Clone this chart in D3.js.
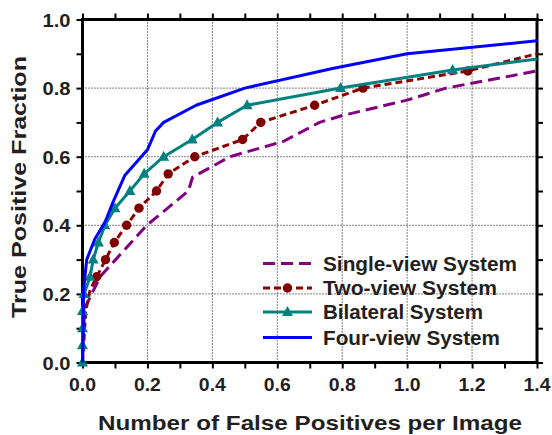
<!DOCTYPE html>
<html><head><meta charset="utf-8">
<script src="https://cdn.jsdelivr.net/npm/d3@7"></script>
<style>body{margin:0;background:#fff;} svg{display:block;}</style>
</head><body>
<script>
// ---- data ----
const seriesNames = ["Single-view System", "Two-view System", "Bilateral System", "Four-view System"];
const singleView = [[0,0],[0.003,0.10],[0.008,0.16],[0.054,0.25],[0.198,0.40],[0.326,0.50],[0.339,0.54],[0.454,0.60],[0.62,0.645],[0.73,0.70],[0.80,0.72],[1.0,0.765],[1.12,0.80],[1.4,0.85]];
const twoView = [[0,0],[0.01,0.15],[0.023,0.21],[0.044,0.25],[0.071,0.30],[0.098,0.35],[0.136,0.40],[0.174,0.45],[0.228,0.50],[0.264,0.55],[0.346,0.60],[0.493,0.65],[0.549,0.70],[0.715,0.75],[0.864,0.80],[1.187,0.85],[1.4,0.90]];
const twoViewMarked = [0.044,0.071,0.098,0.136,0.174,0.228,0.264,0.346,0.493,0.549,0.715,0.864,1.187];
const bilateral = [[0,0],[0,0.05],[0,0.10],[0,0.15],[0.005,0.20],[0.023,0.25],[0.033,0.30],[0.049,0.35],[0.069,0.40],[0.10,0.45],[0.146,0.50],[0.19,0.55],[0.25,0.60],[0.338,0.65],[0.416,0.70],[0.507,0.75],[0.795,0.80],[1.14,0.853],[1.4,0.885]];
const bilateralMarked = bilateral.slice(0, bilateral.length - 1);
const fourView = [[0,0],[0.002,0.10],[0.003,0.21],[0.013,0.30],[0.038,0.36],[0.07,0.41],[0.095,0.47],[0.13,0.545],[0.2,0.62],[0.225,0.675],[0.25,0.70],[0.35,0.75],[0.5,0.80],[0.77,0.857],[1.0,0.90],[1.4,0.938]];
const xTicks = [0,0.2,0.4,0.6,0.8,1.0,1.2,1.4];
const yTicks = [0,0.2,0.4,0.6,0.8,1.0];
const xMinor = d3.range(0, 1.401, 0.1);
const yMinor = d3.range(0, 1.001, 0.1);

// ---- layout ----
const W = 552, H = 435;
const m = {left: 82.5, right: 552 - 537, top: 19.5, bottom: 435 - 362.5};
const svg = d3.select("body").append("svg").attr("width", W).attr("height", H);
const x = d3.scaleLinear().domain([0, 1.4]).range([m.left, W - m.right]);
const y = d3.scaleLinear().domain([0, 1.0]).range([H - m.bottom, m.top]);
const textCol = "#231f20";
const font = "'Liberation Sans', Arial, sans-serif";

// grid
const g = svg.append("g");
g.selectAll(".vg").data(xTicks.slice(1, -1)).join("line")
  .attr("x1", d => x(d)).attr("x2", d => x(d)).attr("y1", y(0)).attr("y2", y(1))
  .attr("stroke", "#000").attr("stroke-width", 1).attr("stroke-dasharray", "1,2");
g.selectAll(".hg").data(yTicks.slice(1, -1)).join("line")
  .attr("y1", d => y(d)).attr("y2", d => y(d)).attr("x1", x(0)).attr("x2", x(1.4))
  .attr("stroke", "#000").attr("stroke-width", 1).attr("stroke-dasharray", "1,2");

// axes (outward ticks on all sides)
const fmt = d3.format(".1f");
const axB = svg.append("g").attr("transform", `translate(0,${y(0)})`)
  .call(d3.axisBottom(x).tickValues(xMinor).tickSize(6).tickFormat(""));
const axT = svg.append("g").attr("transform", `translate(0,${y(1)})`)
  .call(d3.axisTop(x).tickValues(xMinor).tickSize(6).tickFormat(""));
const axL = svg.append("g").attr("transform", `translate(${x(0)},0)`)
  .call(d3.axisLeft(y).tickValues(yMinor).tickSize(6).tickFormat(""));
const axR = svg.append("g").attr("transform", `translate(${x(1.4)},0)`)
  .call(d3.axisRight(y).tickValues(yMinor).tickSize(6).tickFormat(""));
[axB, axT, axL, axR].forEach(a => {
  a.select(".domain").remove();
  a.selectAll(".tick line").attr("stroke", "#000").attr("stroke-width", 2);
});
svg.append("rect").attr("x", x(0)).attr("y", y(1)).attr("width", x(1.4) - x(0)).attr("height", y(0) - y(1))
  .attr("fill", "none").attr("stroke", "#000").attr("stroke-width", 3);

// tick labels
svg.append("g").selectAll("text").data(xTicks).join("text")
  .attr("x", d => x(d)).attr("y", y(0) + 28).attr("text-anchor", "middle")
  .attr("font-family", font).attr("font-weight", "bold").attr("font-size", 19).attr("fill", textCol)
  .attr("textLength", 27).attr("lengthAdjust", "spacingAndGlyphs")
  .text(d => fmt(d));
svg.append("g").selectAll("text").data(yTicks).join("text")
  .attr("x", x(0) - 12).attr("y", d => y(d) + 7).attr("text-anchor", "end")
  .attr("font-family", font).attr("font-weight", "bold").attr("font-size", 19).attr("fill", textCol)
  .attr("textLength", 28).attr("lengthAdjust", "spacingAndGlyphs")
  .text(d => fmt(d));

// axis titles
svg.append("text").attr("x", 310).attr("y", 430).attr("text-anchor", "middle")
  .attr("font-family", font).attr("font-weight", "bold").attr("font-size", 21).attr("fill", textCol)
  .attr("textLength", 424).attr("lengthAdjust", "spacingAndGlyphs")
  .text("Number of False Positives per Image");
svg.append("text").attr("transform", `translate(26,187) rotate(-90)`).attr("text-anchor", "middle")
  .attr("font-family", font).attr("font-weight", "bold").attr("font-size", 21).attr("fill", textCol)
  .attr("textLength", 262).attr("lengthAdjust", "spacingAndGlyphs")
  .text("True Positive Fraction");

// series
const line = d3.line().x(d => x(d[0])).y(d => y(d[1]));
const styles = [
  {data: singleView, color: "#800080", dash: "12,6"},
  {data: twoView, color: "#8b0000", dash: "7,4"},
  {data: bilateral, color: "#008080", dash: null},
  {data: fourView, color: "#0000ff", dash: null}
];
const tri = "M0,-6L5.5,4L-5.5,4Z";

function drawSeries(i) {
  const s = styles[i];
  svg.append("path").datum(s.data).attr("d", line).attr("fill", "none")
    .attr("stroke", s.color).attr("stroke-width", 3).attr("stroke-dasharray", s.dash)
    .attr("stroke-linejoin", "round");
  if (i === 1) {
    svg.append("g").selectAll("circle").data(twoView.filter(d => twoViewMarked.includes(d[0]))).join("circle")
      .attr("cx", d => x(d[0])).attr("cy", d => y(d[1])).attr("r", 4.7).attr("fill", "#800000");
  }
  if (i === 2) {
    svg.append("g").selectAll("path").data(bilateralMarked).join("path")
      .attr("d", tri).attr("transform", d => `translate(${x(d[0])},${y(d[1])})`).attr("fill", "#008080");
  }
}
[0, 1, 2, 3].forEach(drawSeries);

// legend
const legY = [263.5, 288, 312, 337.5];
const legW = [194, 174, 160, 177];
const lg = svg.append("g");
styles.forEach((s, i) => {
  lg.append("line").attr("x1", 263).attr("x2", 312).attr("y1", legY[i]).attr("y2", legY[i])
    .attr("stroke", s.color).attr("stroke-width", 3).attr("stroke-dasharray", s.dash);
  if (i === 1) lg.append("circle").attr("cx", 287.5).attr("cy", legY[i]).attr("r", 4.7).attr("fill", "#800000");
  if (i === 2) lg.append("path").attr("d", tri).attr("transform", `translate(287.5,${legY[i]})`).attr("fill", "#008080");
  lg.append("text").attr("x", 323).attr("y", legY[i] + 7)
    .attr("font-family", font).attr("font-weight", "bold").attr("font-size", 19.5).attr("fill", textCol)
    .attr("textLength", legW[i]).attr("lengthAdjust", "spacingAndGlyphs")
    .text(seriesNames[i]);
});
</script>
</body></html>
